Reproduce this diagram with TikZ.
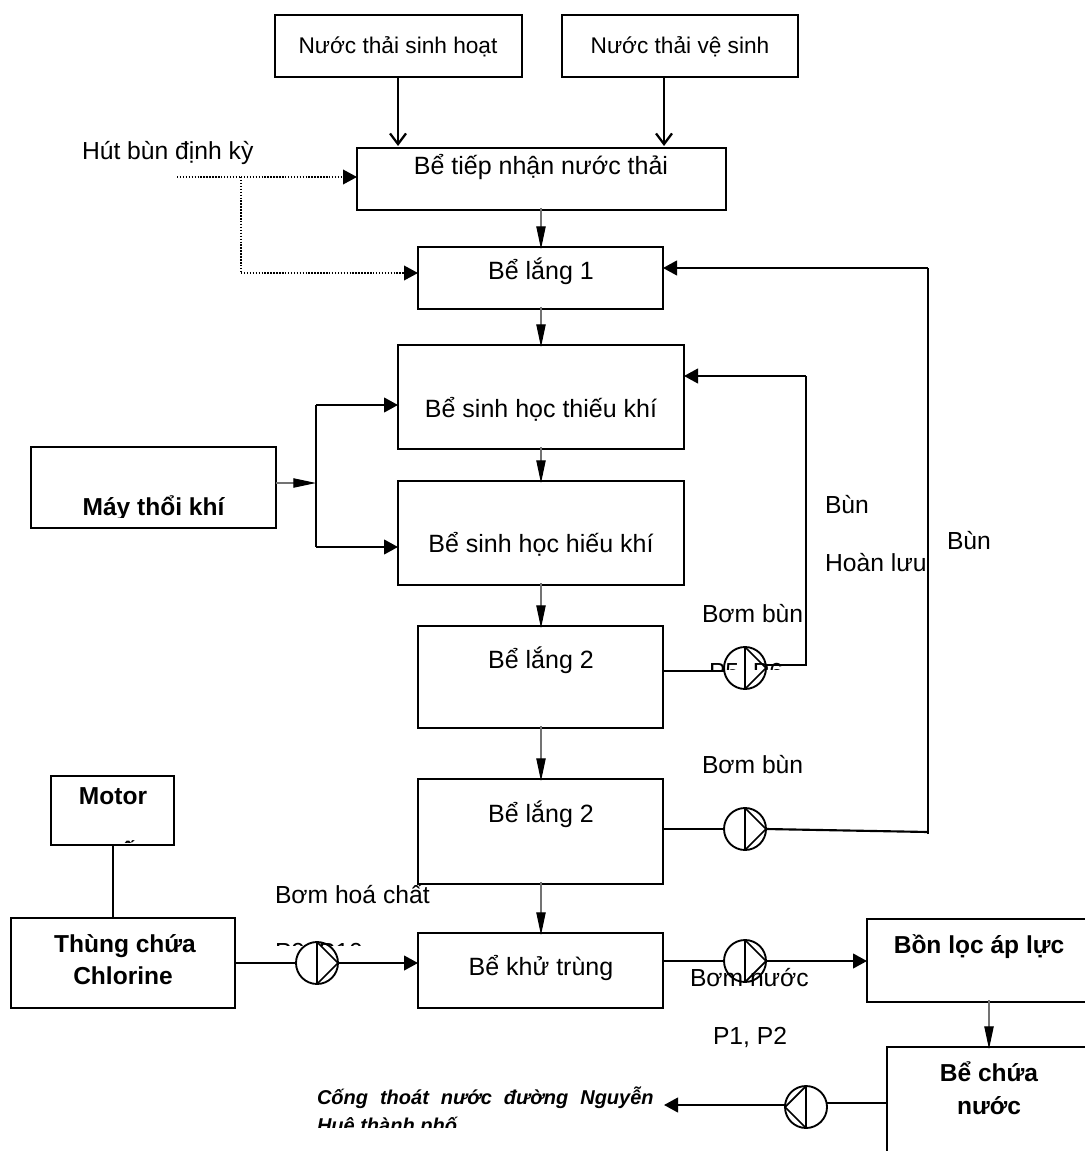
\documentclass[tikz,border=0pt]{standalone}
\usepackage{fontspec}
\setmainfont{Liberation Sans}
\usetikzlibrary{arrows.meta}
\newcommand{\fsbig}{\fontsize{18.5}{22}\selectfont}
\newcommand{\fsbox}{\fontsize{18.75}{22}\selectfont}
\newcommand{\fssmall}{\fontsize{17}{21}\selectfont}
\newcommand{\fsbold}{\fontsize{18.4}{22}\selectfont\bfseries}
\newcommand{\fsital}{\fontsize{15}{20}\selectfont\bfseries\itshape}
\tikzset{
  boxa/.style={draw=black,line width=1.5pt,inner sep=0pt,outer sep=0pt,fill=none},
  boxb/.style={draw=black,line width=2.1pt,inner sep=0pt,outer sep=0pt,fill=none},
  txt/.style={inner sep=0pt,outer sep=0pt,anchor=base,font=\fsbig,text=black},
  txtl/.style={txt,anchor=base west},
  txtc/.style={txt,font=\fsbox},
  txts/.style={txt,font=\fssmall},
  txtb/.style={txt,font=\fsbold},
  pumpc/.style={circle,draw=black,line width=1.4pt,minimum size=31.5pt,inner sep=0pt,outer sep=0pt},
  pumpl/.style={draw=black,line width=1.3pt},
  conn/.style={draw=black,line width=1.6pt},
  headf/.style={-{Triangle[length=10.5pt,width=11pt]}},
  thin/.style={draw=black!55,line width=.8pt,shorten >=-1.5pt,shorten <=-1.5pt,-{Triangle[length=17pt,width=7pt,color=black]}},
  open/.style={draw=black,line width=1.7pt,-{Straight Barb[length=8pt,width=12pt]}},
  dots/.style={draw=black,line width=1.2pt,dash pattern=on 1.1pt off 1.1pt},
}
% name, x1, y1, x2, y2, style
\newcommand{\mybox}[6]{%
  \pgfmathsetmacro{\mw}{(#4-#2)*0.75}%
  \pgfmathsetmacro{\mh}{(#5-#3)*0.75}%
  \pgfmathsetmacro{\mx}{(#2+#4)/2}%
  \pgfmathsetmacro{\my}{(#3+#5)/2}%
  \node[#6,minimum width=\mw pt,minimum height=\mh pt] (#1) at (\mx,\my) {};%
}
\newcommand{\pumpR}[3]{%
  \node[pumpc] (#1) at (#2,#3) {};
  \draw[pumpl] (#1.north) -- (#1.south);
  \draw[pumpl] (#1.north) -- (#1.east) -- (#1.south);
}
\newcommand{\pumpL}[3]{%
  \node[pumpc] (#1) at (#2,#3) {};
  \draw[pumpl] (#1.north) -- (#1.south);
  \draw[pumpl] (#1.north) -- (#1.west) -- (#1.south);
}
\begin{document}
\begin{tikzpicture}[x=0.75pt,y=-0.75pt]
\useasboundingbox (0,0) rectangle (1084,1151);
\fill[white] (0,0) rectangle (1084,1151);

% boxes
\mybox{nsh}{275}{15}{522}{77}{boxb}
\mybox{nvs}{562}{15}{798}{77}{boxb}
\mybox{tn}{357}{148}{726}{210}{boxb}
\mybox{l1}{418}{247}{663}{309}{boxa}
\mybox{tk}{398}{345}{684}{449}{boxa}
\mybox{hk}{398}{481}{684}{585}{boxa}
\mybox{l2}{418}{626}{663}{728}{boxa}
\mybox{l3}{418}{779}{663}{884}{boxa}
\mybox{kt}{418}{933}{663}{1008}{boxa}
\mybox{mt}{31}{447}{276}{528}{boxa}
\mybox{mo}{51}{776}{174}{845}{boxb}
\mybox{tc}{11}{918}{235}{1008}{boxa}
\mybox{bl}{867}{919}{1100}{1002}{boxa}
\mybox{bc}{887}{1047}{1100}{1170}{boxa}

% box texts
\node[txts] (tnsh) at (398,54) {Nước thải sinh hoạt};
\node[txts] (tnvs) at (680,54) {Nước thải vệ sinh};
\node[txtc] (ttn) at (541,175) {Bể tiếp nhận nước thải};
\node[txtc] (tl1) at (541,280) {Bể lắng 1};
\node[txtc] (ttk) at (541,417) {Bể sinh học thiếu khí};
\node[txtc] (thk) at (541,552) {Bể sinh học hiếu khí};
\node[txtc] (tl2) at (541,668) {Bể lắng 2};
\node[txtc] (tl3) at (541,822) {Bể lắng 2};
\node[txtc] (tkt) at (541,975) {Bể khử trùng};
\begin{scope}
  \clip (31,447) rectangle (276,517.5);
  \node[txtb] (tmt) at (153.5,515) {Máy thổi khí};
\end{scope}
\node[txtb] (tmo) at (113,804) {Motor};
\begin{scope}
  \clip (120,776) rectangle (174,842.5);
  \node[txtb] (tmo2) at (113,859) {khuấy};
\end{scope}
\node[txtb] (ttc1) at (125,952) {Thùng chứa};
\node[txtb] (ttc2) at (123,984) {Chlorine};
\node[txtb] (tbl) at (979,953) {Bồn lọc áp lực};
\node[txtb] (tbc1) at (989,1081) {Bể chứa};
\node[txtb] (tbc2) at (989,1114) {nước};

% free labels
\node[txtl] (hut) at (82,160) {Hút bùn định kỳ};
\node[txtl] (bun1) at (825,513) {Bùn};
\node[txtl] (hl) at (825,571) {Hoàn lưu};
\node[txtl] (bun2) at (947,549) {Bùn};
\node[txtl] (bb1) at (702,622) {Bơm bùn};
\begin{scope}
  \clip (700,650) rectangle (800,669);
  \node[txtl] (p56) at (709,680) {P5, P6};
\end{scope}
\node[txtl] (bb2) at (702,773) {Bơm bùn};
\node[txtl] (bhc) at (275,903) {Bơm hoá chất};
\begin{scope}
  \clip (270,930) rectangle (380,945.5);
  \node[txtl] (p910) at (275,960.5) {P9, P10};
\end{scope}
\node[txtl] (bn) at (690,986) {Bơm nước};
\node[txtl] (p12) at (713,1044) {P1, P2};
\node[font=\fsital,inner sep=0pt,outer sep=0pt,anchor=base west] (cong) at (317,1104)
  {\makebox[252.5pt][s]{Cống thoát nước đường Nguyễn}};
\begin{scope}
  \clip (310,1110) rectangle (660,1127.5);
  \node[font=\fsital,inner sep=0pt,outer sep=0pt,anchor=base west] (hue) at (317,1132) {Huệ thành phố};
\end{scope}

% pumps
\pumpR{p1}{745}{668}
\pumpR{p2}{745}{829}
\pumpR{p3}{745}{961}
\pumpR{p4}{317}{963}
\pumpL{p5}{806}{1107}

% named turning points
\coordinate (dotstart) at (177,177);
\coordinate (dotturn) at (241,177);
\coordinate (dotdown) at (241,273);
\coordinate (airjoin) at (316,483);
\coordinate (airtop) at (316,405);
\coordinate (airbot) at (316,547);
\coordinate (rr1) at (806,665);
\coordinate (rr2) at (806,376);
\coordinate (rb1) at (928,832);
\coordinate (rb2) at (928,268);

% connectors: inlets
\draw[open] (nsh.south -| 398,0) -- (398,146);
\draw[open] (nvs.south -| 664,0) -- (664,146);
\draw[dots] (dotstart) -- (dotturn);
\draw[dots,headf] (dotturn) -- (tn.west |- dotturn);
\draw[dots] (dotturn) -- (dotdown);
\draw[dots,headf] (dotdown) -- (l1.west |- dotdown);

% connectors: vertical train
\draw[thin] (tn.south -| 541,0) -- (l1.north -| 541,0);
\draw[thin] (l1.south -| 541,0) -- (tk.north -| 541,0);
\draw[thin] (tk.south -| 541,0) -- (hk.north -| 541,0);
\draw[thin] (hk.south -| 541,0) -- (l2.north -| 541,0);
\draw[thin] (l2.south -| 541,0) -- (l3.north -| 541,0);
\draw[thin] (l3.south -| 541,0) -- (kt.north -| 541,0);
\draw[thin] (bl.south -| 989,0) -- (bc.north -| 989,0);

% air
\draw[thin,shorten >=0pt,shorten <=0pt] (mt.east |- airjoin) -- (airjoin);
\draw[conn] (airtop) -- (airbot);
\draw[conn,headf] (airtop) -- (tk.west |- airtop);
\draw[conn,headf] (airbot) -- (hk.west |- airbot);

% recycles
\draw[conn] (l2.east |- 0,671) -- (p1.west |- 0,671);
\draw[conn] (p1.east |- rr1) -- (rr1) -- (rr2);
\draw[conn,headf] (rr2) -- (tk.east |- rr2);
\draw[conn] (l3.east |- p2) -- (p2.west);
\draw[conn] (p2.east) -- (rb1);
\draw[conn] (928,834) -- (rb2);
\draw[conn,headf] (rb2) -- (l1.east |- rb2);

% chlorine and outlet
\draw[conn] (mo.south -| 113,0) -- (tc.north -| 113,0);
\draw[conn] (tc.east |- p4) -- (p4.west);
\draw[conn,headf] (p4.east) -- (kt.west |- p4);
\draw[conn] (kt.east |- p3) -- (p3.west);
\draw[conn,headf] (p3.east) -- (bl.west |- p3);
\draw[conn] (bc.west |- 0,1103) -- (p5.east |- 0,1103);
\coordinate (outtip) at (664,1105);
\draw[conn,headf] (p5.west |- outtip) -- (outtip);
\end{tikzpicture}
\end{document}
